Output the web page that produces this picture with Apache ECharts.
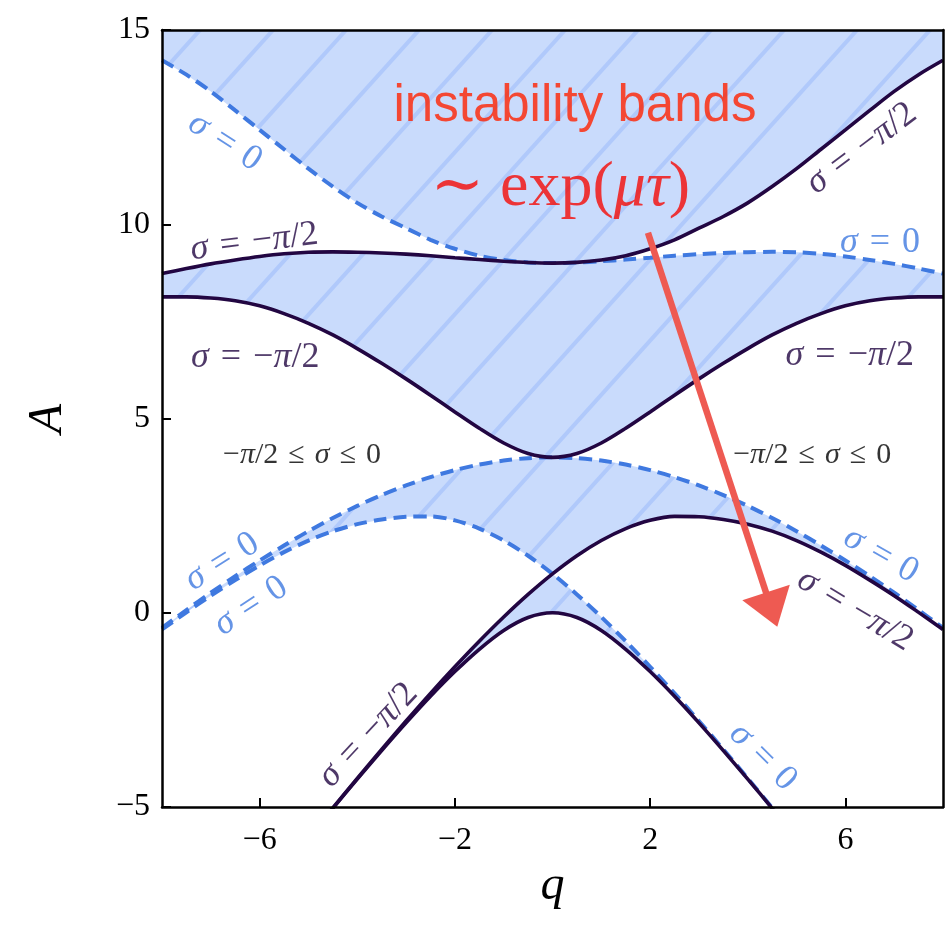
<!DOCTYPE html>
<html>
<head>
<meta charset="utf-8">
<title>Stability chart</title>
<script src="https://cdn.jsdelivr.net/npm/echarts@6/dist/echarts.min.js"></script>
<style>
  html, body { margin: 0; padding: 0; background: #fff; }
  #chart { width: 951px; height: 935px; }
</style>
</head>
<body>
<div id="chart"></div>
<script>
// Sample points along q
const qs = [-8, -7.5, -7, -6.5, -6, -5.5, -5, -4.5, -4, -3.5, -3, -2.5, -2, -1.5, -1, -0.5,
            0, 0.5, 1, 1.5, 2, 2.5, 3, 3.5, 4, 4.5, 5, 5.5, 6, 6.5, 7, 7.5, 8];

// Boundary curves A(q); solid = sigma -pi/2, dashed = sigma 0
const curveA0 = [-10.61, -9.79, -8.97, -8.17, -7.37, -6.58, -5.80, -5.034, -4.283, -3.548, -2.834, -2.15, -1.514, -0.94, -0.455, -0.122,
                 0, -0.122, -0.455, -0.94, -1.514, -2.15, -2.834, -3.548, -4.283, -5.034, -5.80, -6.58, -7.37, -8.17, -8.97, -9.79, -10.61];
const curveA1 = [-10.605, -9.785, -8.97, -8.165, -7.366, -6.575, -5.790, -5.020, -4.263, -3.517, -2.787, -2.076, -1.391, -0.733, -0.110, 0.471,
                 1, 1.467, 1.859, 2.166, 2.379, 2.48, 2.47, 2.40, 2.28, 2.10, 1.858, 1.56, 1.22, 0.84, 0.44, 0.01, -0.43];
const curveB1 = [-0.43, 0.01, 0.44, 0.84, 1.22, 1.56, 1.858, 2.10, 2.28, 2.40, 2.47, 2.48, 2.379, 2.166, 1.859, 1.467,
                 1, 0.471, -0.110, -0.733, -1.391, -2.076, -2.787, -3.517, -4.263, -5.020, -5.790, -6.575, -7.366, -8.165, -8.97, -9.785, -10.605];
const curveB2 = [-0.39, 0.07, 0.515, 0.94, 1.345, 1.73, 2.10, 2.44, 2.75, 3.03, 3.277, 3.492, 3.672, 3.814, 3.917, 3.979,
                 4, 3.979, 3.917, 3.814, 3.672, 3.492, 3.277, 3.03, 2.75, 2.44, 2.10, 1.73, 1.345, 0.94, 0.515, 0.07, -0.39];
const curveA2 = [8.13, 8.13, 8.10, 8.03, 7.90, 7.70, 7.45, 7.15, 6.80, 6.42, 6.02, 5.60, 5.17, 4.75, 4.37, 4.10,
                 4, 4.10, 4.37, 4.75, 5.17, 5.60, 6.02, 6.42, 6.80, 7.15, 7.45, 7.70, 7.90, 8.03, 8.10, 8.13, 8.13];
const curveA3 = [8.73, 8.86, 8.98, 9.08, 9.17, 9.24, 9.28, 9.29, 9.28, 9.26, 9.23, 9.19, 9.139, 9.093, 9.048, 9.014,
                 9, 9.018, 9.078, 9.19, 9.37, 9.60, 9.90, 10.20, 10.55, 10.97, 11.43, 11.93, 12.43, 12.93, 13.42, 13.85, 14.22];
const curveB3 = [14.22, 13.85, 13.42, 12.93, 12.43, 11.93, 11.43, 10.97, 10.55, 10.20, 9.90, 9.60, 9.37, 9.19, 9.078, 9.018,
                 9, 9.014, 9.048, 9.093, 9.139, 9.19, 9.23, 9.26, 9.28, 9.29, 9.28, 9.24, 9.17, 9.08, 8.98, 8.86, 8.73];

// Axis ranges and tick labels
const Q_MIN = -8, Q_MAX = 8, A_MIN = -5, A_MAX = 15, A_STEP = 5;
const qTicks = [-6, -2, 2, 6];

// Colours and fonts
const PURPLE = '#220642';
const BLUE = '#3f79e0';
const FILL = '#c9dbfc';
const STRIPE = '#b0c9fb';
const RED_TEXT = '#ff2200';
const RED_MATH = '#f50a05';
const ARROW = '#ee5a52';
const SERIF = '"Liberation Serif", "DejaVu Serif", serif';
const SANS = '"Liberation Sans", Arial, sans-serif';

const SP = '\u2004';   // three-per-em space around relations
const SIG_HALF = '{i|σ}' + SP + '=' + SP + '−{i|π}/2';
const SIG_ZERO = '{i|σ}' + SP + '=' + SP + '0';
const SIG_RANGE = '−{i|π}/2' + SP + '≤' + SP + '{i|σ}' + SP + '≤' + SP + '0';

// Curve annotations, placed in (q, A) coordinates
const notes = [
  { text: SIG_ZERO,  q: -6.71, A: 12.12, rot: -33, color: BLUE },
  { text: SIG_HALF,  q: -6.11, A: 9.54,  rot: 7,   color: PURPLE },
  { text: SIG_HALF,  q: 6.33,  A: 11.95, rot: 37,  color: PURPLE },
  { text: SIG_ZERO,  q: 6.71,  A: 9.54,  rot: 0,   color: BLUE },
  { text: SIG_HALF,  q: -6.09, A: 6.58,  rot: 0,   color: PURPLE },
  { text: SIG_HALF,  q: 6.09,  A: 6.63,  rot: 0,   color: PURPLE },
  { text: SIG_RANGE, q: -5.13, A: 4.06,  rot: 0,   color: '#000' },
  { text: SIG_RANGE, q: 5.32,  A: 4.06,  rot: 0,   color: '#000' },
  { text: SIG_ZERO,  q: -6.77, A: 1.31,  rot: 32,  color: BLUE },
  { text: SIG_ZERO,  q: -6.18, A: 0.17,  rot: 33,  color: BLUE },
  { text: SIG_HALF,  q: -3.78, A: -3.15, rot: 47,  color: PURPLE },
  { text: SIG_ZERO,  q: 4.31,  A: -3.71, rot: -45, color: BLUE },
  { text: SIG_ZERO,  q: 6.73,  A: 1.49,  rot: -30, color: BLUE },
  { text: SIG_HALF,  q: 6.20,  A: 0.07,  rot: -31, color: PURPLE }
];

// Diagonal hatch used inside the instability bands
function makeHatch() {
  const w = 73, h = 81, m = h / w;
  const c = document.createElement('canvas');
  c.width = w; c.height = h;
  const ctx = c.getContext('2d');
  ctx.fillStyle = FILL;
  ctx.fillRect(0, 0, w, h);
  ctx.strokeStyle = STRIPE;
  ctx.lineWidth = 4;
  [9 - h, 9, 9 + h, 9 + 2 * h].forEach(function (c0) {
    ctx.beginPath();
    ctx.moveTo(-5, c0 + 5 * m);
    ctx.lineTo(w + 5, c0 - (w + 5) * m);
    ctx.stroke();
  });
  return { image: c, repeat: 'repeat' };
}
const hatch = makeHatch();

const maxOf = (u, v) => u.map((x, i) => Math.max(x, v[i]));
const minOf = (u, v) => u.map((x, i) => Math.min(x, v[i]));
const topEdge = qs.map(() => A_MAX);

// Shaded regions: [lower, upper]
const bands = [
  [maxOf(curveA3, curveB3), topEdge],
  [curveA2, minOf(curveA3, curveB3)],
  [maxOf(curveA1, curveB1), curveB2],
  [curveA0, minOf(curveA1, curveB1)]
];

function bandSeries(lower, upper) {
  return {
    type: 'custom',
    silent: true,
    clip: true,
    z: 1,
    data: [[0, 0]],
    renderItem: function (params, api) {
      const pts = [];
      for (let i = 0; i < qs.length; i++) pts.push(api.coord([qs[i], upper[i]]));
      for (let i = qs.length - 1; i >= 0; i--) pts.push(api.coord([qs[i], lower[i]]));
      const cs = params.coordSys;
      const clipped = echarts.graphic.clipPointsByRect(pts, { x: cs.x, y: cs.y, width: cs.width, height: cs.height });
      return { type: 'polygon', shape: { points: clipped }, style: { fill: hatch, stroke: null } };
    }
  };
}

function curveSeries(values, dashed) {
  return {
    type: 'line',
    data: qs.map((q, i) => [q, values[i]]),
    showSymbol: false,
    symbol: 'none',
    smooth: 0.3,
    silent: true,
    clip: true,
    z: dashed ? 3 : 4,
    lineStyle: dashed
      ? { color: BLUE, width: 4, type: [13, 7] }
      : { color: PURPLE, width: 3.6 }
  };
}

const minusFmt = v => (v < 0 ? '\u2212' + Math.abs(v) : String(v));

const noteData = notes.map(n => {
  const size = n.text === SIG_RANGE ? 30 : 36;
  return {
    value: [n.q, n.A],
    label: {
      show: true,
      position: 'inside',
      formatter: n.text,
      rotate: n.rot,
      color: n.color,
      fontFamily: SERIF,
      fontSize: size,
      rich: { i: { fontStyle: 'italic', fontFamily: SERIF, fontSize: size, color: n.color } }
    }
  };
});

noteData.push({
  value: [0.46, 13.02],
  label: { show: true, position: 'inside', formatter: 'instability bands', color: RED_TEXT, fontFamily: SANS, fontSize: 51 }
});
noteData.push({
  value: [0.16, 10.93],
  label: {
    show: true, position: 'inside', formatter: '\u223C\u2005exp({i|μτ})', color: RED_MATH,
    fontFamily: SERIF, fontSize: 64,
    rich: { i: { fontStyle: 'italic', fontFamily: SERIF, fontSize: 64, color: RED_MATH } }
  }
});

const frameLine = { show: true, onZero: false, lineStyle: { color: '#000', width: 2.5 } };

const option = {
  animation: false,
  backgroundColor: '#fff',
  grid: { left: 162, top: 30, right: 8, bottom: 128 },
  xAxis: [
    {
      type: 'value', min: Q_MIN, max: Q_MAX, position: 'bottom', z: 10,
      axisLine: frameLine,
      axisTick: { show: true, inside: true, length: 9, customValues: qTicks, lineStyle: { color: '#000', width: 2 } },
      axisLabel: { customValues: qTicks, formatter: minusFmt, fontFamily: SERIF, fontSize: 32, color: '#000', margin: 18 },
      splitLine: { show: false },
      name: 'q', nameLocation: 'middle', nameGap: 50,
      nameTextStyle: { fontFamily: SERIF, fontStyle: 'italic', fontSize: 48, color: '#000' }
    },
    {
      type: 'value', min: Q_MIN, max: Q_MAX, position: 'top', z: 10,
      axisLine: frameLine, axisTick: { show: false }, axisLabel: { show: false }, splitLine: { show: false }
    }
  ],
  yAxis: [
    {
      type: 'value', min: A_MIN, max: A_MAX, interval: A_STEP, position: 'left', z: 10,
      axisLine: frameLine,
      axisTick: { show: true, inside: true, length: 9, lineStyle: { color: '#000', width: 2 } },
      axisLabel: { formatter: minusFmt, fontFamily: SERIF, fontSize: 32, color: '#000', margin: 12 },
      splitLine: { show: false },
      name: 'A', nameLocation: 'middle', nameGap: 90, nameRotate: 90,
      nameTextStyle: { fontFamily: SERIF, fontStyle: 'italic', fontSize: 48, color: '#000' }
    },
    {
      type: 'value', min: A_MIN, max: A_MAX, position: 'right', z: 10,
      axisLine: frameLine, axisTick: { show: false }, axisLabel: { show: false }, splitLine: { show: false }
    }
  ],
  series: [
    ...bands.map(b => bandSeries(b[0], b[1])),
    curveSeries(curveB1, true),
    curveSeries(curveB2, true),
    curveSeries(curveB3, true),
    curveSeries(curveA0, false),
    curveSeries(curveA1, false),
    curveSeries(curveA2, false),
    curveSeries(curveA3, false),
    {
      type: 'scatter',
      symbolSize: 0,
      silent: true,
      z: 6,
      clip: false,
      data: noteData,
      markLine: {
        silent: true,
        symbol: ['none', 'path://M25,0 L50,36 L0,36 Z'],
        symbolSize: 50,
        symbolKeepAspect: true,
        label: { show: false },
        emphasis: { disabled: true },
        itemStyle: { color: ARROW },
        lineStyle: { color: ARROW, width: 6.5, type: 'solid', opacity: 1 },
        data: [[{ coord: [1.956, 9.78] }, { coord: [4.49, 0.08] }]]
      }
    }
  ]
};

const chart = echarts.init(document.getElementById('chart'), null, { renderer: 'canvas' });
chart.setOption(option);
</script>
</body>
</html>
